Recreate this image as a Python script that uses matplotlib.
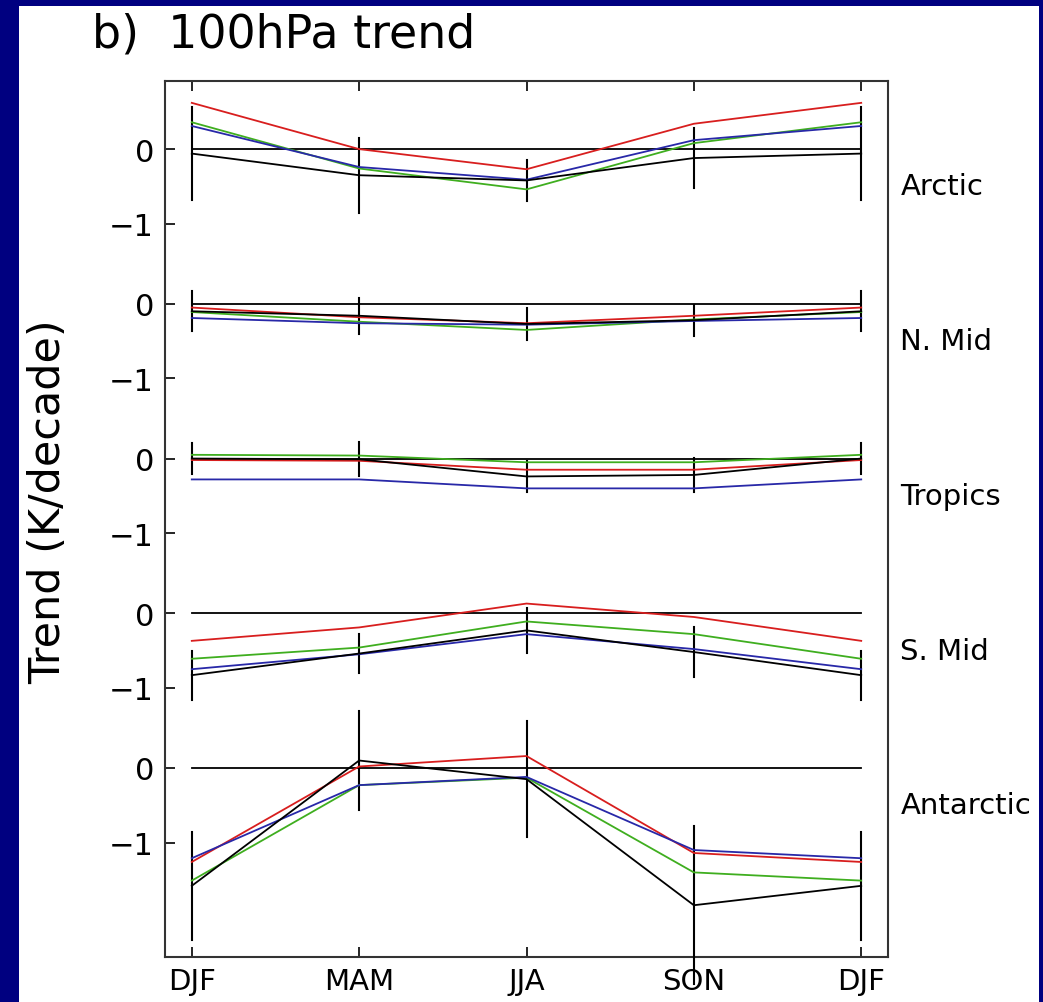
import matplotlib
matplotlib.use("Agg")
import matplotlib.pyplot as plt
from matplotlib.patches import Rectangle
from matplotlib.transforms import blended_transform_factory

# seasons along the x axis
seasons = ["DJF", "MAM", "JJA", "SON", "DJF"]
regions = ["Arctic", "N. Mid", "Tropics", "S. Mid", "Antarctic"]

# observed trend (black) and its uncertainty (vertical bars), K/decade
obs = {
    "Arctic":    [-0.06, -0.35, -0.42, -0.12, -0.06],
    "N. Mid":    [-0.10, -0.16, -0.27, -0.22, -0.10],
    "Tropics":   [0.00, -0.01, -0.24, -0.22, 0.00],
    "S. Mid":    [-0.83, -0.54, -0.23, -0.52, -0.83],
    "Antarctic": [-1.58, 0.10, -0.15, -1.84, -1.58],
}
obs_err = {
    "Arctic":    [0.62, 0.50, 0.28, 0.40, 0.62],
    "N. Mid":    [0.27, 0.24, 0.21, 0.21, 0.27],
    "Tropics":   [0.21, 0.23, 0.21, 0.23, 0.21],
    "S. Mid":    [0.33, 0.26, 0.30, 0.33, 0.33],
    "Antarctic": [0.72, 0.67, 0.78, 1.06, 0.72],
}
# model runs
red = {
    "Arctic":    [0.62, 0.00, -0.27, 0.34, 0.62],
    "N. Mid":    [-0.05, -0.18, -0.26, -0.16, -0.05],
    "Tropics":   [-0.02, -0.03, -0.15, -0.15, -0.02],
    "S. Mid":    [-0.37, -0.19, 0.13, -0.05, -0.37],
    "Antarctic": [-1.26, 0.02, 0.16, -1.14, -1.26],
}
green = {
    "Arctic":    [0.36, -0.26, -0.54, 0.08, 0.36],
    "N. Mid":    [-0.11, -0.24, -0.35, -0.21, -0.11],
    "Tropics":   [0.05, 0.04, -0.05, -0.05, 0.05],
    "S. Mid":    [-0.61, -0.46, -0.11, -0.28, -0.61],
    "Antarctic": [-1.51, -0.23, -0.13, -1.40, -1.51],
}
blue = {
    "Arctic":    [0.31, -0.24, -0.41, 0.12, 0.31],
    "N. Mid":    [-0.19, -0.26, -0.28, -0.23, -0.19],
    "Tropics":   [-0.28, -0.28, -0.40, -0.40, -0.28],
    "S. Mid":    [-0.75, -0.55, -0.28, -0.48, -0.75],
    "Antarctic": [-1.21, -0.23, -0.12, -1.10, -1.21],
}

navy = "#000080"
gap = 2.074  # vertical spacing between stacked panels

fig = plt.figure(figsize=(10.43, 10.03), dpi=100)
fig.patch.set_facecolor("white")
ax = fig.add_axes([165 / 1043, 45 / 1003, 723 / 1043, 876 / 1003])

x = list(range(len(seasons)))
yticks, ylabels = [], []
trans = blended_transform_factory(ax.transAxes, ax.transData)
for i, reg in enumerate(regions):
    off = -i * gap
    ax.plot([0, 4], [off, off], color="black", lw=1.3, zorder=2)
    for val, err, xi in zip(obs[reg], obs_err[reg], x):
        ax.plot([xi, xi], [off + val - err, off + val + err], color="black",
                lw=1.5, clip_on=False, zorder=3)
    ax.plot(x, [off + v for v in red[reg]], color="#d81e1e", lw=1.3, zorder=4)
    ax.plot(x, [off + v for v in green[reg]], color="#3fae1f", lw=1.3, zorder=4)
    ax.plot(x, [off + v for v in blue[reg]], color="#2828a8", lw=1.3, zorder=4)
    ax.plot(x, [off + v for v in obs[reg]], color="black", lw=1.3, zorder=5)
    yticks += [off, off - 1]
    ylabels += ["0", "\u22121"]
    ax.text(1.017, off - 0.5, reg, transform=trans, ha="left", va="center",
            fontsize=21, clip_on=False)

ax.set_xlim(-0.16, 4.16)
ax.set_ylim(-10.83, 0.913)
ax.set_xticks(x)
ax.set_xticklabels(seasons, fontsize=21)
ax.set_yticks(yticks)
ax.set_yticklabels(ylabels, fontsize=22)
ax.tick_params(axis="x", direction="in", length=7, width=1.2, top=True, pad=7)
ax.tick_params(axis="y", direction="in", length=7, width=1.2, right=False, pad=8)
for s in ax.spines.values():
    s.set_linewidth(1.5)
    s.set_color("#333333")

fig.text(92 / 1043, 1 - 48 / 1003, "b)  100hPa trend", fontsize=33, va="baseline")
fig.text(48 / 1043, 1 - 502 / 1003, "Trend (K/decade)", fontsize=31,
         rotation=90, ha="center", va="center")

# navy frame round the white page
for r in [(0, 0, 19 / 1043, 1), (1039 / 1043, 0, 1, 1), (0, 1 - 7 / 1003, 1, 1)]:
    fig.patches.append(Rectangle(r[:2], r[2], r[3], transform=fig.transFigure,
                                 facecolor=navy, edgecolor="none", zorder=10))

fig.savefig("out.png", dpi=100)
